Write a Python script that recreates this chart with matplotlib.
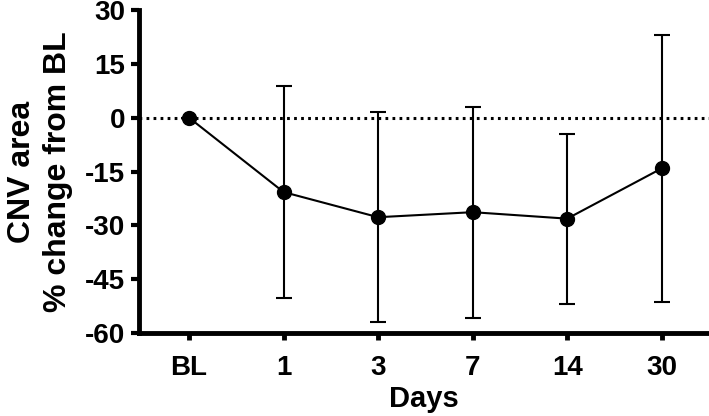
import numpy as np
import matplotlib.pyplot as plt

plt.rcParams['font.family'] = ['Liberation Sans', 'DejaVu Sans']
plt.rcParams['font.weight'] = 'bold'
plt.rcParams['axes.unicode_minus'] = False

# data
days = ["BL", "1", "3", "7", "14", "30"]
mean_change = [0.0, -20.7, -27.7, -26.3, -28.1, -14.1]
sd_change = [0.0, 29.4, 29.3, 29.4, 23.7, 37.2]
y_ticks = [-60, -45, -30, -15, 0, 15, 30]

x = np.arange(len(days))

fig = plt.figure(figsize=(7.09, 4.16), dpi=100)
ax = fig.add_axes([0.196, 0.199, 0.804, 0.777])

ax.axhline(0, color="black", linestyle=(0, (0.9, 1.4)), linewidth=2.2, zorder=1)
ax.errorbar(x, mean_change, yerr=sd_change, color="black", linewidth=1.5,
            elinewidth=1.5, capsize=6, capthick=1.5, marker="o",
            markersize=10, zorder=3)

ax.set_xlim(-0.53, 5.5)
ax.set_ylim(-60, 30)
ax.set_yticks(y_ticks)
ax.set_xticks(x)
ax.set_xticklabels(days)

for s in ["top", "right"]:
    ax.spines[s].set_visible(False)
for s in ["left", "bottom"]:
    ax.spines[s].set_linewidth(3.5)

ax.tick_params(axis="y", width=3, length=6, labelsize=20, pad=4)
ax.tick_params(axis="x", width=3.5, length=5, labelsize=20, pad=11)
for lab in ax.get_xticklabels() + ax.get_yticklabels():
    lab.set_fontweight("bold")

ax.set_xlabel("Days", fontsize=21, fontweight="bold", labelpad=2.5)
ax.set_ylabel("CNV area\n% change from BL", fontsize=23, fontweight="bold",
              linespacing=1.25, labelpad=8.5)

fig.savefig("out.png", dpi=100)
